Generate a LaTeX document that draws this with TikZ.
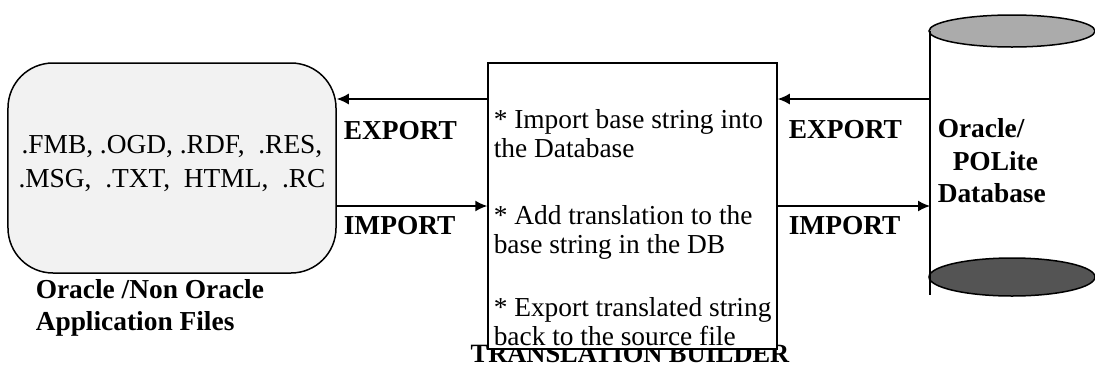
\documentclass[tikz,border=0pt]{standalone}
\usepackage{fontspec}
\setmainfont{Liberation Serif}
\usetikzlibrary{arrows.meta}

\tikzset{
  txt/.style={inner sep=0pt,font=\fontsize{27.5}{28.5}\selectfont,align=left},
  lbl/.style={inner sep=0pt,font=\fontsize{27.5}{32}\selectfont\bfseries,align=left},
  arr/.style={line width=1.5bp,-{Latex[length=12bp,width=11bp]}}
}

\begin{document}
\begin{tikzpicture}[x=1bp,y=-1bp,line width=1.5bp]
\useasboundingbox (0,0) rectangle (1095,365);

% fichiers sources
\node[draw,rounded corners=45bp,fill=gray!10,minimum width=328bp,minimum height=210bp] (files) at (172,168) {};
\node[txt,align=center,font=\fontsize{27.5}{34}\selectfont,anchor=base] (ext) at (172,187) {.FMB, .OGD, .RDF,\ \ .RES,\\.MSG,\ \ .TXT,\ \ HTML,\ \ .RC};
\node[lbl,anchor=base west] (filelbl) at (35,330) {Oracle /Non Oracle\\Application Files};

% titre derriere la boite
\node[lbl,anchor=base,font=\fontsize{26.5}{32}\selectfont\bfseries] (tbtitle) at (630,362) {TRANSLATION BUILDER};
\node[draw,fill=white,minimum width=289bp,minimum height=286bp] (tb) at (632.5,206) {};
\node[txt,anchor=base west] (s1) at (493,157) {* Import base string into\\the Database};
\node[txt,anchor=base west] (s2) at (493,253) {* Add translation to the\\base string in the DB};
\node[txt,anchor=base west] (s3) at (493,345) {* Export translated string\\back to the source file};

% base de donnees
\draw[fill=black!33] (1012,31) ellipse (83 and 16);
\draw[fill=black!67] (1012,277) ellipse (83 and 19);
\draw (930,31) -- (930,295);
\coordinate (db) at (930,168);
\node[lbl,anchor=base west] (dbl1) at (937,137) {Oracle/};
\node[lbl,anchor=base west] (dbl2) at (952,170) {POLite};
\node[lbl,anchor=base west] (dbl3) at (937,202) {Database};

% fleches
\coordinate (ex) at (0,99);
\draw[arr] (tb.west |- ex) -- (files.east |- ex);
\draw[arr] (files.east |- tb.west) -- (tb.west);
\draw[arr] (db |- ex) -- (tb.east |- ex);
\draw[arr] (tb.east) -- (tb.east -| db);
\node[lbl,anchor=base west] (exl) at (343,139) {EXPORT};
\node[lbl,anchor=base west] (iml) at (343,234) {IMPORT};
\node[lbl,anchor=base west] (exr) at (788,138) {EXPORT};
\node[lbl,anchor=base west] (imr) at (788,234) {IMPORT};
\end{tikzpicture}
\end{document}
